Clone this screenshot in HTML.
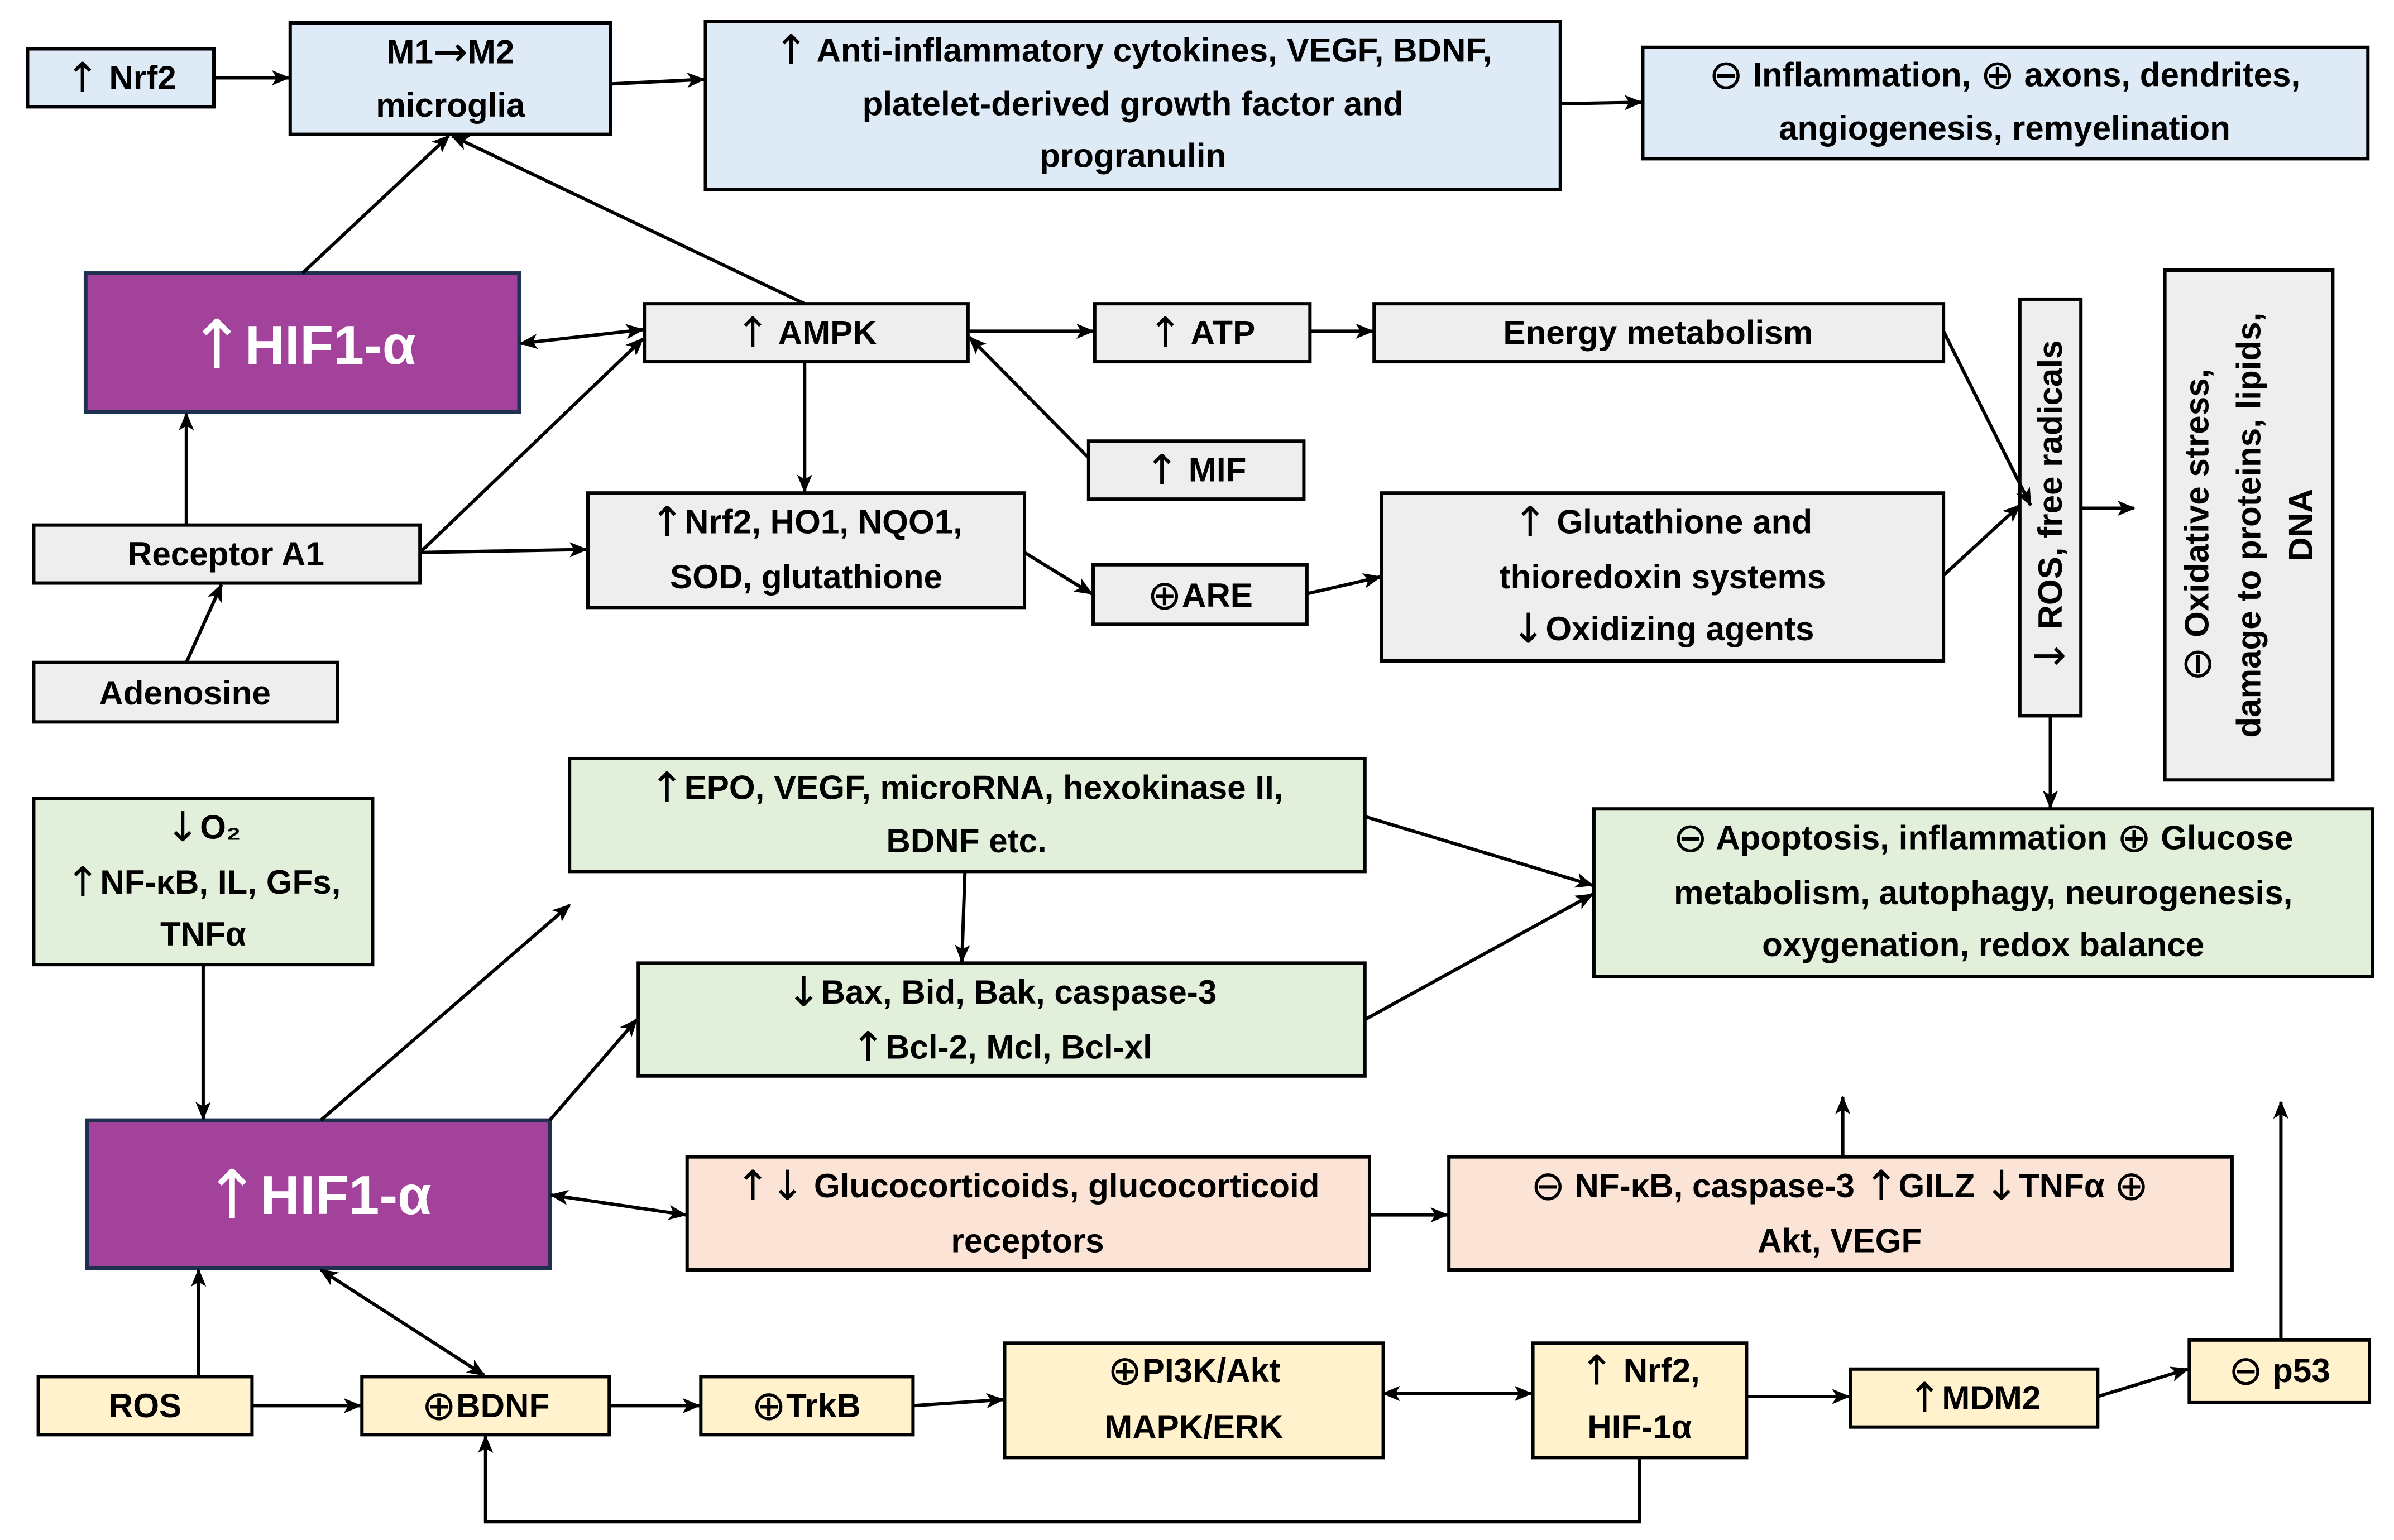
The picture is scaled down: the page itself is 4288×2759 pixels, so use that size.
<!DOCTYPE html>
<html><head><meta charset="utf-8"><style>
html,body{margin:0;padding:0;background:#fff;}
svg{display:block}
text{font-family:"Liberation Sans","DejaVu Sans",sans-serif;font-weight:bold;font-size:22px;fill:#000;text-anchor:middle;dominant-baseline:central}
.s{font-family:"DejaVu Sans",sans-serif;font-size:27px;font-weight:normal}
.b{stroke:#000;stroke-width:2.2}
.l{stroke:#000;stroke-width:2.2;fill:none}
.h{fill:#fff;font-size:36px}
.hs{font-family:"DejaVu Sans",sans-serif;font-size:44px;font-weight:normal;fill:#fff}
</style></head><body>
<svg width="4288" height="2759" viewBox="0 0 1568 1009" xmlns="http://www.w3.org/2000/svg">
<defs>
<marker id="a" viewBox="0 0 12 10" refX="11" refY="5" markerWidth="12" markerHeight="10" markerUnits="userSpaceOnUse" orient="auto-start-reverse">
<path d="M0,0 L12,5 L0,10 L3,5 Z" fill="#000"/></marker>
</defs>
<rect class="b" x="18" y="32" width="122" height="38" fill="#deeaf6"/>
<text x="79" y="51"><tspan class="s">↑</tspan> Nrf2</text>
<rect class="b" x="190" y="15" width="210" height="73" fill="#deeaf6"/>
<text x="295" y="34">M1<tspan class="s">→</tspan>M2</text><text x="295" y="69">microglia</text>
<rect class="b" x="462" y="14" width="560" height="110" fill="#deeaf6"/>
<text x="742" y="33"><tspan class="s">↑</tspan> Anti-inflammatory cytokines, VEGF, BDNF,</text>
<text x="742" y="68">platelet-derived growth factor and</text>
<text x="742" y="102">progranulin</text>
<rect class="b" x="1076" y="31" width="475" height="73" fill="#deeaf6"/>
<text x="1313" y="49"><tspan class="s">⊖</tspan> Inflammation, <tspan class="s">⊕</tspan> axons, dendrites,</text>
<text x="1313" y="84">angiogenesis, remyelination</text>

<rect x="56" y="179" width="284" height="91" fill="#a3429a" stroke="#1f2f50" stroke-width="2.5"/>
<text class="h" x="198" y="226"><tspan class="hs">↑</tspan>HIF1-α</text>
<rect class="b" x="422" y="199" width="212" height="38" fill="#eeeeee"/>
<text x="528" y="218"><tspan class="s">↑</tspan> AMPK</text>
<rect class="b" x="717" y="199" width="141" height="38" fill="#eeeeee"/>
<text x="787" y="218"><tspan class="s">↑</tspan> ATP</text>
<rect class="b" x="900" y="199" width="373" height="38" fill="#eeeeee"/>
<text x="1086" y="218">Energy metabolism</text>
<rect class="b" x="713" y="289" width="141" height="38" fill="#eeeeee"/>
<text x="783" y="308"><tspan class="s">↑</tspan> MIF</text>
<rect class="b" x="22" y="344" width="253" height="38" fill="#eeeeee"/>
<text x="148" y="363">Receptor A1</text>
<rect class="b" x="385" y="323" width="286" height="75" fill="#eeeeee"/>
<text x="528" y="342"><tspan class="s">↑</tspan>Nrf2, HO1, NQO1,</text><text x="528" y="378">SOD, glutathione</text>
<rect class="b" x="716" y="370" width="140" height="39" fill="#eeeeee"/>
<text x="786" y="390"><tspan class="s">⊕</tspan>ARE</text>
<rect class="b" x="905" y="323" width="368" height="110" fill="#eeeeee"/>
<text x="1089" y="342"><tspan class="s">↑</tspan> Glutathione and</text>
<text x="1089" y="378">thioredoxin systems</text>
<text x="1089" y="412"><tspan class="s">↓</tspan>Oxidizing agents</text>
<rect class="b" x="1323" y="196" width="40" height="273" fill="#eeeeee"/>
<text transform="translate(1343,332) rotate(-90)"><tspan class="s">↓</tspan> ROS, free radicals</text>
<rect class="b" x="1418" y="177" width="110" height="334" fill="#eeeeee"/>
<g transform="translate(1473,344) rotate(-90)">
<text x="0" y="-34"><tspan class="s">⊖</tspan> Oxidative stress,</text>
<text x="0" y="0">damage to proteins, lipids,</text>
<text x="0" y="34">DNA</text></g>
<rect class="b" x="22" y="434" width="199" height="39" fill="#eeeeee"/>
<text x="121" y="454">Adenosine</text>

<rect class="b" x="22" y="523" width="222" height="109" fill="#e2efda"/>
<text x="133" y="542"><tspan class="s">↓</tspan>O₂</text>
<text x="133" y="578"><tspan class="s">↑</tspan>NF-κB, IL, GFs,</text>
<text x="133" y="612">TNFα</text>
<rect class="b" x="373" y="497" width="521" height="74" fill="#e2efda"/>
<text x="633" y="516"><tspan class="s">↑</tspan>EPO, VEGF, microRNA, hexokinase II,</text>
<text x="633" y="551">BDNF etc.</text>
<rect class="b" x="418" y="631" width="476" height="74" fill="#e2efda"/>
<text x="656" y="650"><tspan class="s">↓</tspan>Bax, Bid, Bak, caspase-3</text>
<text x="656" y="686"><tspan class="s">↑</tspan>Bcl-2, Mcl, Bcl-xl</text>
<rect class="b" x="1044" y="530" width="510" height="110" fill="#e2efda"/>
<text x="1299" y="549"><tspan class="s">⊖</tspan> Apoptosis, inflammation <tspan class="s">⊕</tspan> Glucose</text>
<text x="1299" y="585">metabolism, autophagy, neurogenesis,</text>
<text x="1299" y="619">oxygenation, redox balance</text>

<rect x="57" y="734" width="303" height="97" fill="#a3429a" stroke="#1f2f50" stroke-width="2.5"/>
<text class="h" x="208" y="783"><tspan class="hs">↑</tspan>HIF1-α</text>
<rect class="b" x="450" y="758" width="447" height="74" fill="#fbe3d6"/>
<text x="673" y="777"><tspan class="s">↑↓</tspan> Glucocorticoids, glucocorticoid</text>
<text x="673" y="813">receptors</text>
<rect class="b" x="949" y="758" width="513" height="74" fill="#fbe3d6"/>
<text x="1205" y="777"><tspan class="s">⊖</tspan> NF-κB, caspase-3 <tspan class="s">↑</tspan>GILZ <tspan class="s">↓</tspan>TNFα <tspan class="s">⊕</tspan></text>
<text x="1205" y="813">Akt, VEGF</text>

<rect class="b" x="25" y="902" width="140" height="38" fill="#fff2cc"/>
<text x="95" y="921">ROS</text>
<rect class="b" x="237" y="902" width="162" height="38" fill="#fff2cc"/>
<text x="318" y="921"><tspan class="s">⊕</tspan>BDNF</text>
<rect class="b" x="459" y="902" width="139" height="38" fill="#fff2cc"/>
<text x="528" y="921"><tspan class="s">⊕</tspan>TrkB</text>
<rect class="b" x="658" y="880" width="248" height="75" fill="#fff2cc"/>
<text x="782" y="898"><tspan class="s">⊕</tspan>PI3K/Akt</text><text x="782" y="935">MAPK/ERK</text>
<rect class="b" x="1004" y="880" width="140" height="75" fill="#fff2cc"/>
<text x="1074" y="898"><tspan class="s">↑</tspan> Nrf2,</text><text x="1074" y="935">HIF-1α</text>
<rect class="b" x="1212" y="897" width="162" height="38" fill="#fff2cc"/>
<text x="1293" y="916"><tspan class="s">↑</tspan>MDM2</text>
<rect class="b" x="1434" y="878" width="118" height="41" fill="#fff2cc"/>
<text x="1493" y="898"><tspan class="s">⊖</tspan> p53</text>

<g class="l" marker-end="url(#a)">
<line x1="140" y1="51" x2="189" y2="51"/>
<line x1="400" y1="55" x2="461" y2="52"/>
<line x1="1022" y1="68" x2="1075" y2="67"/>
<line x1="198" y1="179" x2="294" y2="89"/>
<line x1="527" y1="199" x2="296" y2="89"/>
<line x1="341" y1="225" x2="421" y2="216" marker-start="url(#a)"/>
<line x1="122" y1="344" x2="122" y2="271"/>
<line x1="275" y1="362" x2="421" y2="222"/>
<line x1="275" y1="362" x2="384" y2="360"/>
<line x1="122" y1="434" x2="145" y2="383"/>
<line x1="634" y1="217" x2="716" y2="217"/>
<line x1="858" y1="217" x2="899" y2="217"/>
<line x1="713" y1="300" x2="635" y2="221"/>
<line x1="527" y1="237" x2="527" y2="322"/>
<line x1="671" y1="362" x2="715" y2="389"/>
<line x1="856" y1="389" x2="904" y2="378"/>
<line x1="1273" y1="217" x2="1330" y2="331"/>
<line x1="1273" y1="377" x2="1323" y2="331"/>
<line x1="1363" y1="333" x2="1398" y2="333"/>
<line x1="1343" y1="469" x2="1343" y2="529"/>
<line x1="133" y1="632" x2="133" y2="733"/>
<line x1="210" y1="734" x2="373" y2="593"/>
<line x1="360" y1="734" x2="417" y2="668"/>
<line x1="632" y1="571" x2="630" y2="630"/>
<line x1="894" y1="535" x2="1043" y2="580"/>
<line x1="894" y1="668" x2="1043" y2="586"/>
<line x1="361" y1="783" x2="449" y2="796" marker-start="url(#a)"/>
<line x1="897" y1="796" x2="948" y2="796"/>
<line x1="1207" y1="758" x2="1207" y2="719"/>
<line x1="1494" y1="878" x2="1494" y2="722"/>
<line x1="130" y1="902" x2="130" y2="832"/>
<line x1="210" y1="832" x2="317" y2="901" marker-start="url(#a)"/>
<line x1="165" y1="921" x2="236" y2="921"/>
<line x1="399" y1="921" x2="458" y2="921"/>
<line x1="598" y1="921" x2="657" y2="917"/>
<line x1="906" y1="913" x2="1003" y2="913" marker-start="url(#a)"/>
<line x1="1144" y1="915" x2="1211" y2="915"/>
<line x1="1374" y1="915" x2="1433" y2="897"/>
<polyline points="1074,955 1074,997 318,997 318,941"/>
</g>
</svg>
</body></html>
